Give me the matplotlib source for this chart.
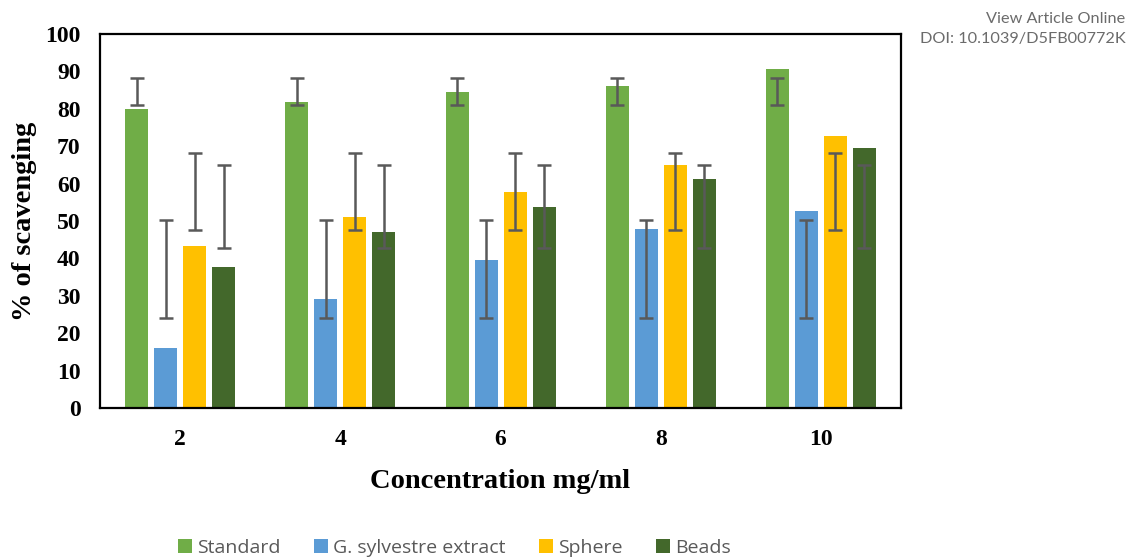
import numpy as np
from matplotlib import pyplot as plt

conc = ["2", "4", "6", "8", "10"]
series = ["Standard", "G. sylvestre extract", "Sphere", "Beads"]
colors = ["#70AD47", "#5B9BD5", "#FFC000", "#43682B"]

standard = [80.0, 81.8, 84.5, 86.1, 90.6]
extract = [16.0, 29.2, 39.6, 47.9, 52.7]
sphere = [43.4, 51.1, 57.8, 65.0, 72.8]
beads = [37.7, 47.1, 53.7, 61.3, 69.6]

# error bar ranges (low, high), same for every concentration
err_low = [81.0, 24.0, 47.6, 42.9]
err_high = [88.3, 50.3, 68.2, 64.9]

values = [standard, extract, sphere, beads]

fig = plt.figure(figsize=(11.28, 5.58), dpi=100)
ax = fig.add_axes([0.0887, 0.2688, 0.7101, 0.6703])

x = np.arange(len(conc))
width = 0.144
pitch = 0.181
for i, (name, vals, c) in enumerate(zip(series, values, colors)):
    xs = x + (i - 1.5) * pitch
    ax.bar(xs, vals, width, color=c, label=name, zorder=2)
    lo = np.full(len(conc), err_low[i])
    hi = np.full(len(conc), err_high[i])
    ax.errorbar(xs, (lo + hi) / 2, yerr=(hi - lo) / 2, fmt="none",
                ecolor="#595959", elinewidth=1.8, capsize=5, capthick=1.8, zorder=3)

ax.set_xlim(-0.5, len(conc) - 0.5)
ax.set_ylim(0, 100)
ax.set_yticks(np.arange(0, 101, 10))
ax.set_xticks(x)
ax.set_xticklabels(conc)
ax.tick_params(length=0)
for lab in ax.get_xticklabels() + ax.get_yticklabels():
    lab.set_fontfamily("Liberation Serif")
    lab.set_fontweight("bold")
    lab.set_fontsize(17)
ax.tick_params(axis="y", pad=14)
ax.tick_params(axis="x", pad=15)
for s in ax.spines.values():
    s.set_linewidth(1.6)
    s.set_color("black")

ax.set_ylabel("% of scavenging", fontfamily="Liberation Serif", fontweight="bold",
              fontsize=20.5, labelpad=6)
ax.set_xlabel("Concentration mg/ml", fontfamily="Liberation Serif", fontweight="bold",
              fontsize=20.5, labelpad=14)

fig.legend(loc="center", bbox_to_anchor=(0.403, 0.018), ncol=4, frameon=False,
           prop={"family": "Open Sans", "size": 14}, labelcolor="#595959",
           handlelength=0.7, handleheight=0.7, handletextpad=0.25, columnspacing=1.75)

fig.text(0.998, 0.966, "View Article Online", ha="right", va="center",
         fontfamily="Lato", fontsize=11.7, color="#6b6b6b")
fig.text(0.998, 0.930, "DOI: 10.1039/D5FB00772K", ha="right", va="center",
         fontfamily="Lato", fontsize=11.7, color="#6b6b6b")

fig.savefig("out.png", dpi=100)
